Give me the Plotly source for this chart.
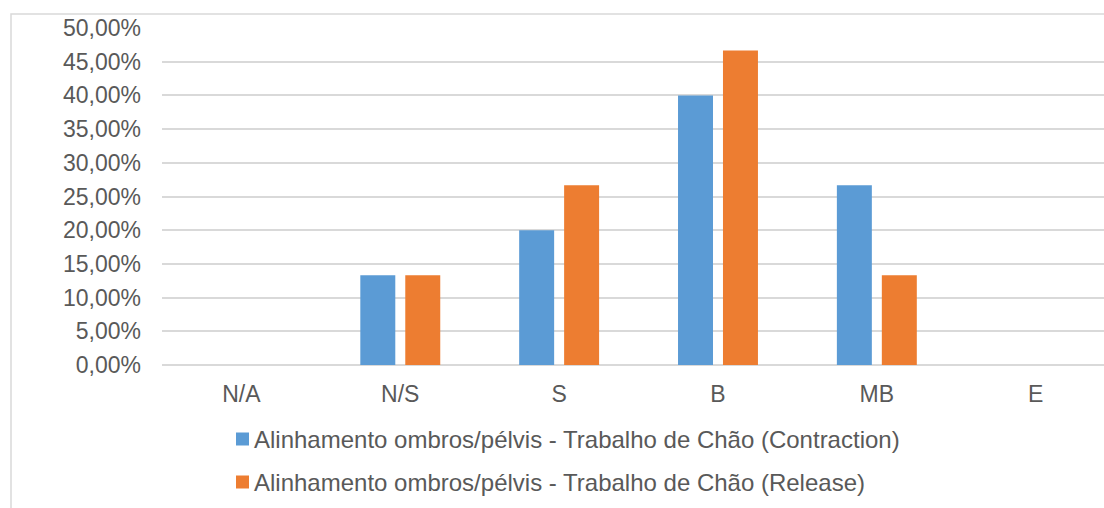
import plotly.graph_objects as go

categories = ["N/A", "N/S", "S", "B", "MB", "E"]
contraction = [0.0, 0.1333, 0.20, 0.40, 0.2667, 0.0]
release = [0.0, 0.1333, 0.2667, 0.4667, 0.1333, 0.0]
series_names = [
    "Alinhamento ombros/pélvis - Trabalho de Chão (Contraction)",
    "Alinhamento ombros/pélvis - Trabalho de Chão (Release)",
]
y_ticks = [0.0, 0.05, 0.10, 0.15, 0.20, 0.25, 0.30, 0.35, 0.40, 0.45, 0.50]

BLUE = "#5B9BD5"
ORANGE = "#ED7D31"
GRID = "#D9D9D9"
TEXT = "#595959"
FONT = "Liberation Sans, Arial, sans-serif"

W, H = 1104, 508
ML, MR, MT, MB = 162, 0, 28, 143
PW, PH = W - ML - MR, H - MT - MB


def px_x(x):
    return (x - ML) / PW


def px_y(y):
    return (H - MB - y) / PH


fig = go.Figure()
for name, vals, col in [(series_names[0], contraction, BLUE),
                        (series_names[1], release, ORANGE)]:
    fig.add_trace(go.Bar(
        x=categories, y=vals, name=name, marker_color=col,
        marker_line_width=0, showlegend=False,
    ))

# outer chart frame
fig.add_shape(type="rect", xref="paper", yref="paper",
              x0=px_x(11), x1=px_x(1200), y0=px_y(14), y1=px_y(600),
              line=dict(color=GRID, width=1.5), fillcolor="rgba(0,0,0,0)",
              layer="below")

# legend entries
for i, (name, col) in enumerate([(series_names[0], BLUE), (series_names[1], ORANGE)]):
    cy = 439 + i * 43
    fig.add_shape(type="rect", xref="paper", yref="paper",
                  x0=px_x(236), x1=px_x(249), y0=px_y(cy - 6.5), y1=px_y(cy + 6.5),
                  line_width=0, fillcolor=col)
    fig.add_annotation(xref="paper", yref="paper", x=px_x(252), y=px_y(cy),
                       text=name, showarrow=False, xanchor="left", yanchor="middle",
                       font=dict(family=FONT, size=24, color=TEXT))

fig.update_layout(
    width=W, height=H,
    margin=dict(l=ML, r=MR, t=MT, b=MB, pad=0),
    paper_bgcolor="white", plot_bgcolor="white",
    separators=",.",
    barmode="group", bargap=0.434, bargroupgap=0.222,
    font=dict(family=FONT, size=23, color=TEXT),
    showlegend=False,
)
fig.update_xaxes(
    range=[-0.5, 5.43], showgrid=False, showline=False,
    ticks="", ticklabelstandoff=13,
    tickfont=dict(family=FONT, size=23, color=TEXT),
)
fig.update_yaxes(
    range=[0, 0.5], tickvals=y_ticks, tickformat=".2%",
    showgrid=True, gridcolor=GRID, gridwidth=1.5,
    zeroline=True, zerolinecolor=GRID, zerolinewidth=1.5,
    showline=False, ticks="", ticklabelstandoff=20,
    tickfont=dict(family=FONT, size=23, color=TEXT),
)

fig.write_html("out.html")
